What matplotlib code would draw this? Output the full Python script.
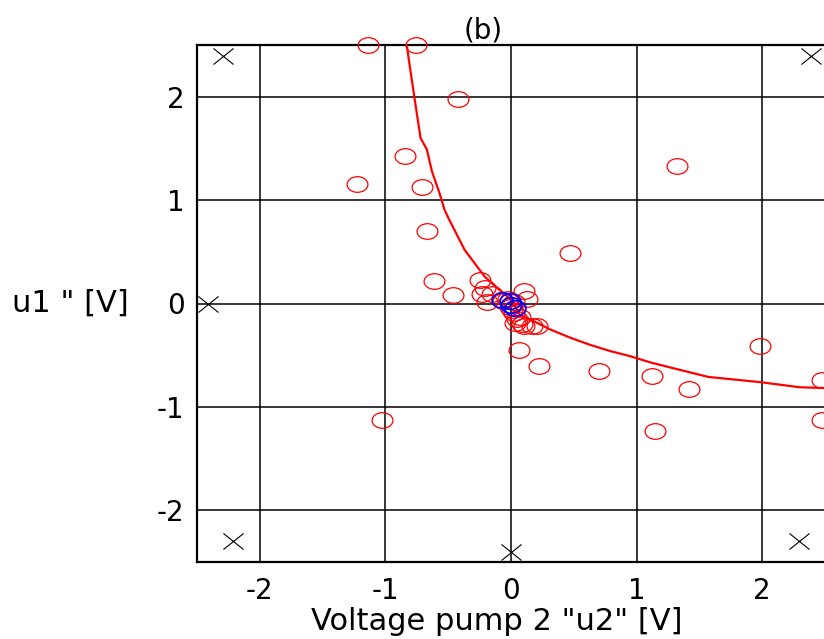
import matplotlib
matplotlib.use("Agg")
import matplotlib.pyplot as plt
import numpy as np
from matplotlib.path import Path
from matplotlib.transforms import Affine2D

plt.rcParams['axes.unicode_minus'] = False

# data
cross_x = [-2.29, 2.39, -2.41, -2.21, 0.0, 2.29]
cross_y = [2.39, 2.39, 0.0, -2.30, -2.40, -2.30]

red_x = [-1.14, -0.76, -0.42, -0.84, -1.23, -0.71, 1.32, -0.67, 0.47, -0.61,
         -0.46, -0.25, -0.21, -0.23, -0.19, -0.15, 0.10, 0.13, -0.06, -0.01,
         0.02, 0.05, 0.09, 0.02, -0.02, 0.01, 0.07, 0.17, 0.03, 0.10,
         0.21, 0.06, 0.22, 0.70, 1.12, 1.42, 1.98, 1.15, -1.03, 2.48, 2.48]
red_y = [2.50, 2.50, 1.98, 1.43, 1.16, 1.13, 1.33, 0.70, 0.49, 0.22,
         0.08, 0.23, 0.15, 0.09, 0.01, 0.09, 0.12, 0.04, 0.02, -0.03,
         -0.09, -0.15, -0.20, 0.01, 0.04, -0.06, -0.13, -0.22, -0.19, -0.22,
         -0.22, -0.45, -0.60, -0.65, -0.70, -0.83, -0.41, -1.23, -1.13, -0.74, -1.13]

blue_x = [-0.07, -0.01, 0.03, 0.00]
blue_y = [0.03, 0.02, -0.04, -0.01]

curve_x = [-0.83, -0.81, -0.77, -0.72, -0.67, -0.63, -0.57, -0.53, -0.50, -0.37,
           -0.21, -0.10, 0.0, 0.07, 0.18, 0.31, 0.47, 0.63, 0.79, 0.95,
           1.11, 1.24, 1.57, 1.98, 2.30, 2.55]
curve_y = [2.50, 2.33, 2.00, 1.60, 1.49, 1.28, 1.07, 0.91, 0.83, 0.52,
           0.26, 0.14, 0.04, -0.11, -0.17, -0.25, -0.33, -0.40, -0.46, -0.51,
           -0.57, -0.61, -0.71, -0.76, -0.81, -0.82]

# squashed markers (wider than tall)
ellipse = Path.unit_circle().transformed(Affine2D().scale(1.0, 0.75))
cross = Path([(-1, -0.8), (1, 0.8), (-1, 0.8), (1, -0.8)],
             [Path.MOVETO, Path.LINETO, Path.MOVETO, Path.LINETO])

fig = plt.figure(figsize=(8.24, 6.39), dpi=100)
ax = fig.add_axes([197 / 824, 1 - 562 / 639, 628 / 824, 517 / 639])

ax.plot(curve_x, curve_y, color='red', lw=1.6, zorder=3)
ax.plot(red_x, red_y, ls='none', marker=ellipse, ms=15, mfc='none',
        mec='red', mew=0.9, clip_on=False, zorder=4)
ax.plot(blue_x, blue_y, ls='none', marker=ellipse, ms=15, mfc='none',
        mec='blue', mew=1.2, clip_on=False, zorder=5)
ax.plot(cross_x, cross_y, ls='none', marker=cross, ms=14.5,
        mec='black', mew=0.8, clip_on=False, zorder=4)

ax.set_xlim(-2.5, 2.5)
ax.set_ylim(-2.5, 2.5)
ax.set_xticks([-2, -1, 0, 1, 2])
ax.set_yticks([-2, -1, 0, 1, 2])
ax.grid(True, color='black', lw=1.1)
ax.set_axisbelow(True)
ax.tick_params(length=0, labelsize=20, pad=11)
ax.tick_params(axis='y', pad=9)
for s in ['top', 'left', 'bottom']:
    ax.spines[s].set_linewidth(1.6)
ax.spines['right'].set_visible(False)

ax.set_title('(b)', fontsize=20, x=0.456, pad=5)
ax.set_xlabel('Voltage pump 2 "u2" [V]', fontsize=22)
ax.xaxis.set_label_coords(0.478, -0.087)
ax.set_ylabel('u1 " [V]', fontsize=22, rotation=0, va='center', ha='center')
ax.yaxis.set_label_coords(-0.202, 0.5)

fig.savefig('out.png', dpi=100)
